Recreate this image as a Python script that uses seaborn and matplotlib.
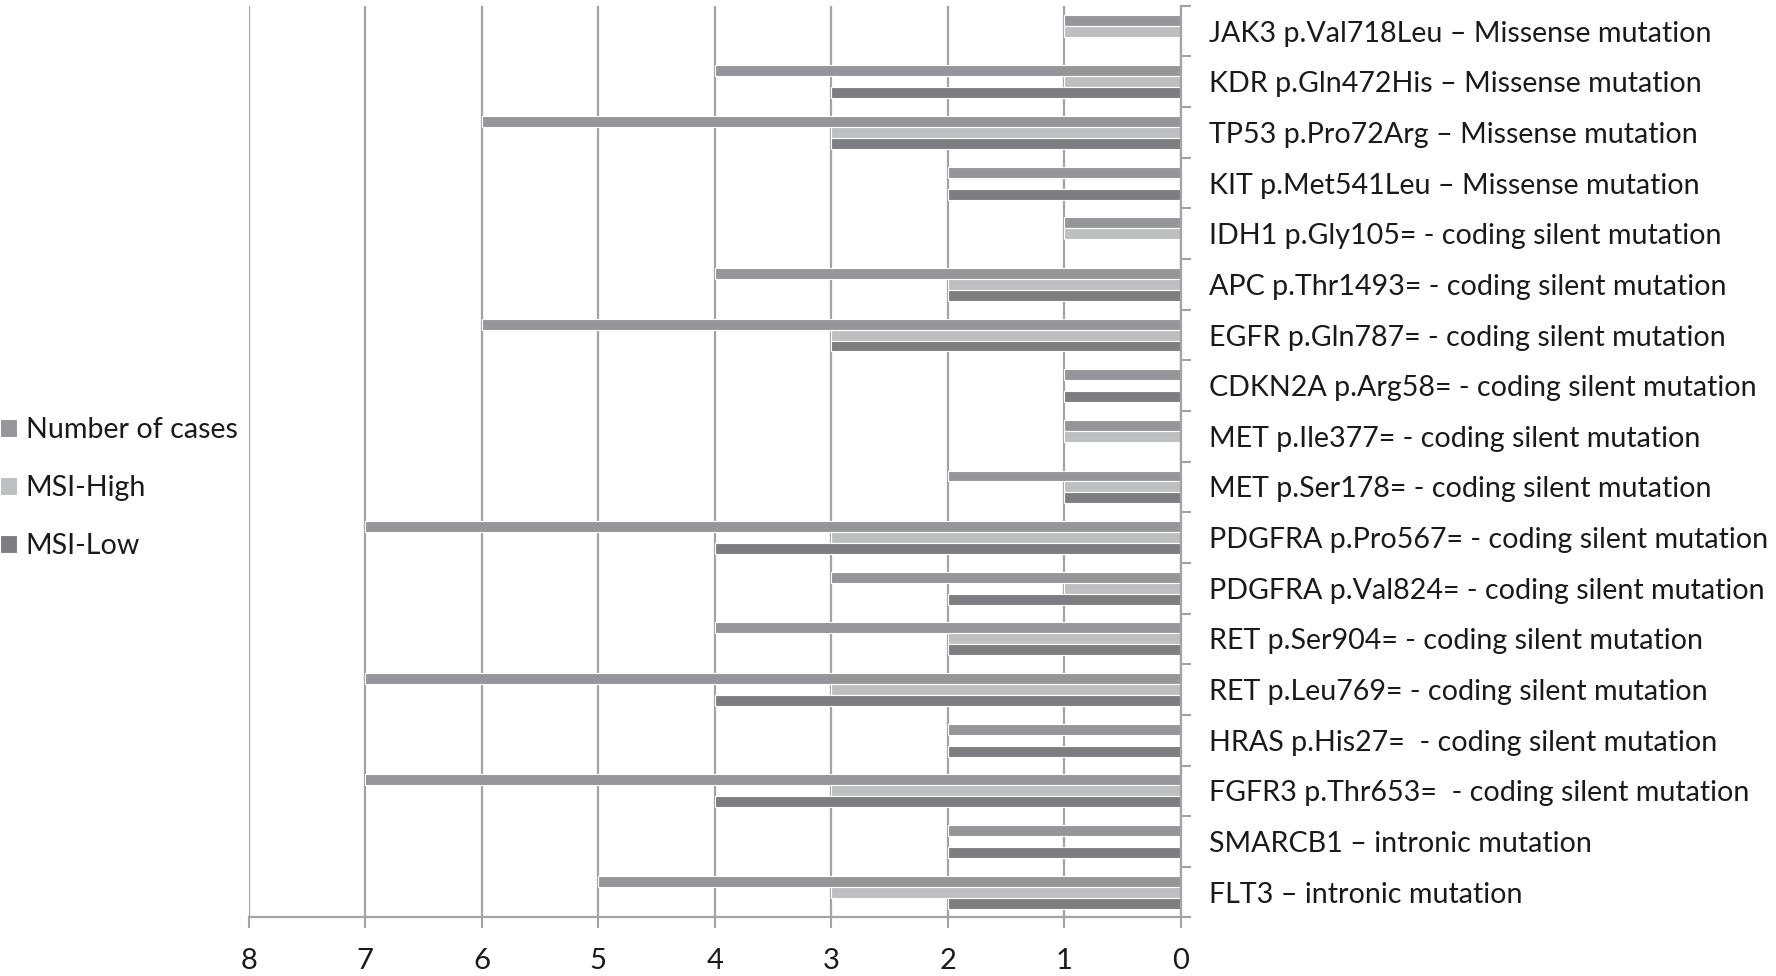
import numpy as np
import pandas as pd
import matplotlib
matplotlib.use("Agg")
import matplotlib.pyplot as plt
import seaborn as sns

mutations = [
    "JAK3 p.Val718Leu \u2013 Missense mutation",
    "KDR p.Gln472His \u2013 Missense mutation",
    "TP53 p.Pro72Arg \u2013 Missense mutation",
    "KIT p.Met541Leu \u2013 Missense mutation",
    "IDH1 p.Gly105= - coding silent mutation",
    "APC p.Thr1493= - coding silent mutation",
    "EGFR p.Gln787= - coding silent mutation",
    "CDKN2A p.Arg58= - coding silent mutation",
    "MET p.Ile377= - coding silent mutation",
    "MET p.Ser178= - coding silent mutation",
    "PDGFRA p.Pro567= - coding silent mutation",
    "PDGFRA p.Val824= - coding silent mutation",
    "RET p.Ser904= - coding silent mutation",
    "RET p.Leu769= - coding silent mutation",
    "HRAS p.His27=  - coding silent mutation",
    "FGFR3 p.Thr653=  - coding silent mutation",
    "SMARCB1 \u2013 intronic mutation",
    "FLT3 \u2013 intronic mutation",
]
number_of_cases = [1, 4, 6, 2, 1, 4, 6, 1, 1, 2, 7, 3, 4, 7, 2, 7, 2, 5]
msi_high = [1, 1, 3, 0, 1, 2, 3, 0, 1, 1, 3, 1, 2, 3, 0, 3, 0, 3]
msi_low = [0, 3, 3, 2, 0, 2, 3, 1, 0, 1, 4, 2, 2, 4, 2, 4, 2, 2]
series = ["Number of cases", "MSI-High", "MSI-Low"]
x_ticks = [0, 1, 2, 3, 4, 5, 6, 7, 8]

colors = ["#96969a", "#bebfc1", "#7e7e82"]

# long-form table for seaborn
df = pd.DataFrame({
    "mutation": mutations * 3,
    "series": np.repeat(series, len(mutations)),
    "value": number_of_cases + msi_high + msi_low,
})

sns.set_style("white")
plt.rcParams["font.family"] = ["Lato", "DejaVu Sans"]
text_col = "#1a1a1a"

fig, ax = plt.subplots(figsize=(17.76, 9.76), dpi=100)
fig.subplots_adjust(left=0.140, right=0.665, top=0.994, bottom=0.060)

sns.barplot(data=df, y="mutation", x="value", hue="series", order=mutations,
            hue_order=series, palette=colors, orient="h", width=0.65,
            edgecolor="white", linewidth=0.8, saturation=1, ax=ax)

ax.set_xlim(8, 0)
ax.set_ylim(len(mutations) - 0.5, -0.5)
ax.set_xticks(x_ticks)
ax.set_xticklabels([str(t) for t in x_ticks], fontsize=21, color=text_col)
ax.set_axisbelow(True)
ax.grid(axis="x", color="#a3a3a3", linewidth=1.6)
ax.grid(axis="y", visible=False)

ax.yaxis.tick_right()
ax.set_yticks(range(len(mutations)))
ax.set_yticklabels(mutations, fontsize=20.6, color=text_col)
ax.set_yticks(np.arange(-0.5, len(mutations), 1), minor=True)
ax.tick_params(axis="y", which="major", length=0, pad=20)
ax.tick_params(axis="y", which="minor", right=True, length=7, width=1.5, color="#a3a3a3")
ax.tick_params(axis="x", length=8, width=1.5, color="#a3a3a3", pad=14, bottom=True)
ax.set_xlabel("")
ax.set_ylabel("")

for side in ["top", "left"]:
    ax.spines[side].set_visible(False)
for side in ["bottom", "right"]:
    ax.spines[side].set_color("#a3a3a3")
    ax.spines[side].set_linewidth(1.6)

handles, labels = ax.get_legend_handles_labels()
ax.get_legend().remove()
fig.legend(handles, labels, loc="center left", bbox_to_anchor=(0.0, 0.5),
           frameon=False, fontsize=20.6, handlelength=0.6, handleheight=0.6,
           handletextpad=0.3, labelspacing=1.12, borderaxespad=0, borderpad=0,
           labelcolor=text_col)

fig.savefig("out.png", dpi=100)
